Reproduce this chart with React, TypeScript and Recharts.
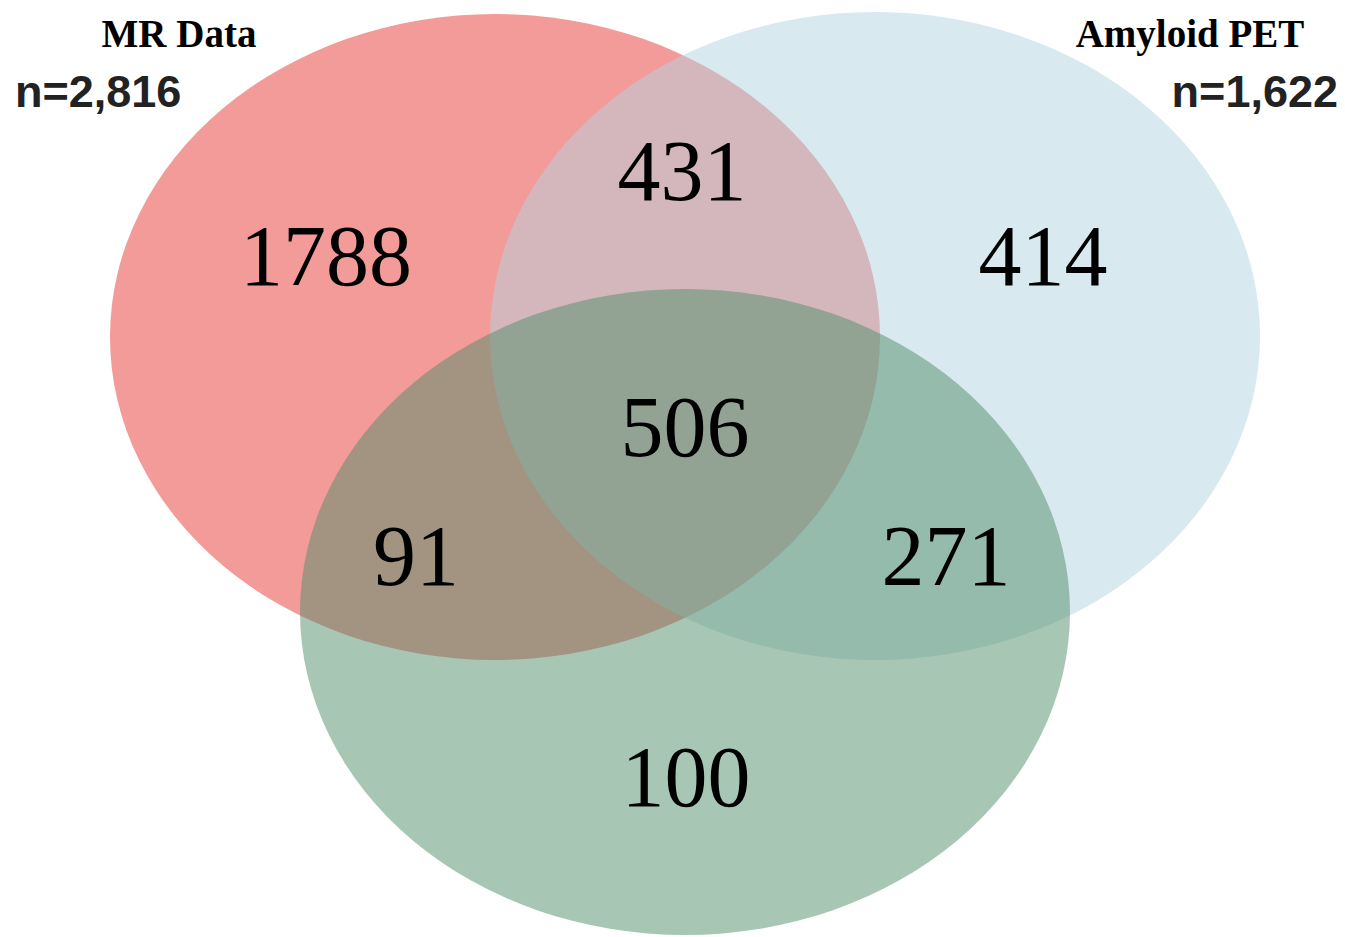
import React from 'react';
import { ScatterChart, Scatter, XAxis, YAxis } from 'recharts';

// set ellipses (chart units, y grows downward)
const setKeys = ['mr', 'pet', 'other'];
const setCenterX = [495, 875, 685];
const setCenterY = [337, 336, 612];
const setRadiusX = [385, 385, 385];
const setRadiusY = [323, 324, 323];

// region counts and where they sit
const regionCounts = ['1788', '431', '414', '506', '91', '271', '100'];
const regionX = [326, 682, 1043, 685, 416, 946, 686];
const regionY = [285, 200, 285, 456, 585, 585, 806];

// set titles
const titleLabels = ['MR Data', 'Amyloid PET'];
const titleX = [179, 1190];
const titleY = [47, 47];

const sizeLabels = ['n=2,816', 'n=1,622'];
const sizeX = [15, 1338];
const sizeY = [107, 107];

const W = 1345;
const H = 937;

const fills = ['#f29b98', '#b3d3e1', '#518d69'];
const opacities = [1, 0.5, 0.5];

const setData = setKeys.map((k, i) => ({
  key: k,
  x: setCenterX[i],
  y: setCenterY[i],
  rx: setRadiusX[i],
  ry: setRadiusY[i],
}));
const regionData = regionCounts.map((t, i) => ({ text: t, x: regionX[i], y: regionY[i] }));
const titleData = titleLabels.map((t, i) => ({ text: t, x: titleX[i], y: titleY[i] }));
const sizeData = sizeLabels.map((t, i) => ({ text: t, x: sizeX[i], y: sizeY[i], anchor: i === 0 ? 'start' : 'end' }));

// chart units map 1:1 onto pixels since the plot area is W x H
const EllipseShape = (props: any) => {
  const { cx, cy, payload, index } = props;
  const i = setKeys.indexOf(payload.key);
  return (
    <ellipse
      key={index}
      cx={cx}
      cy={cy}
      rx={payload.rx}
      ry={payload.ry}
      fill={fills[i]}
      fillOpacity={opacities[i]}
    />
  );
};

const RegionText = (props: any) => (
  <text x={props.cx} y={props.cy} textAnchor="middle" fontFamily="'Liberation Serif', 'Times New Roman', serif" fontSize={86} fill="#000">
    {props.payload.text}
  </text>
);

const TitleText = (props: any) => (
  <text x={props.cx} y={props.cy} textAnchor="middle" fontFamily="'Liberation Serif', 'Times New Roman', serif" fontWeight="bold" fontSize={39} fill="#000">
    {props.payload.text}
  </text>
);

const SizeText = (props: any) => (
  <text x={props.cx} y={props.cy} textAnchor={props.payload.anchor} fontFamily="'Liberation Sans', Arial, sans-serif" fontWeight="bold" fontSize={45} fill="#222">
    {props.payload.text}
  </text>
);

const App: React.FC = () => {
  return (
    <div style={{ position: 'absolute', left: 0, top: 0, background: '#fff' }}>
      <ScatterChart width={W} height={H} margin={{ top: 0, right: 0, bottom: 0, left: 0 }}>
        <XAxis type="number" dataKey="x" domain={[0, W]} hide />
        <YAxis type="number" dataKey="y" domain={[0, H]} reversed hide />
        <Scatter data={setData} shape={EllipseShape} isAnimationActive={false} />
        <Scatter data={regionData} shape={RegionText} isAnimationActive={false} />
        <Scatter data={titleData} shape={TitleText} isAnimationActive={false} />
        <Scatter data={sizeData} shape={SizeText} isAnimationActive={false} />
      </ScatterChart>
    </div>
  );
};

export default App;
